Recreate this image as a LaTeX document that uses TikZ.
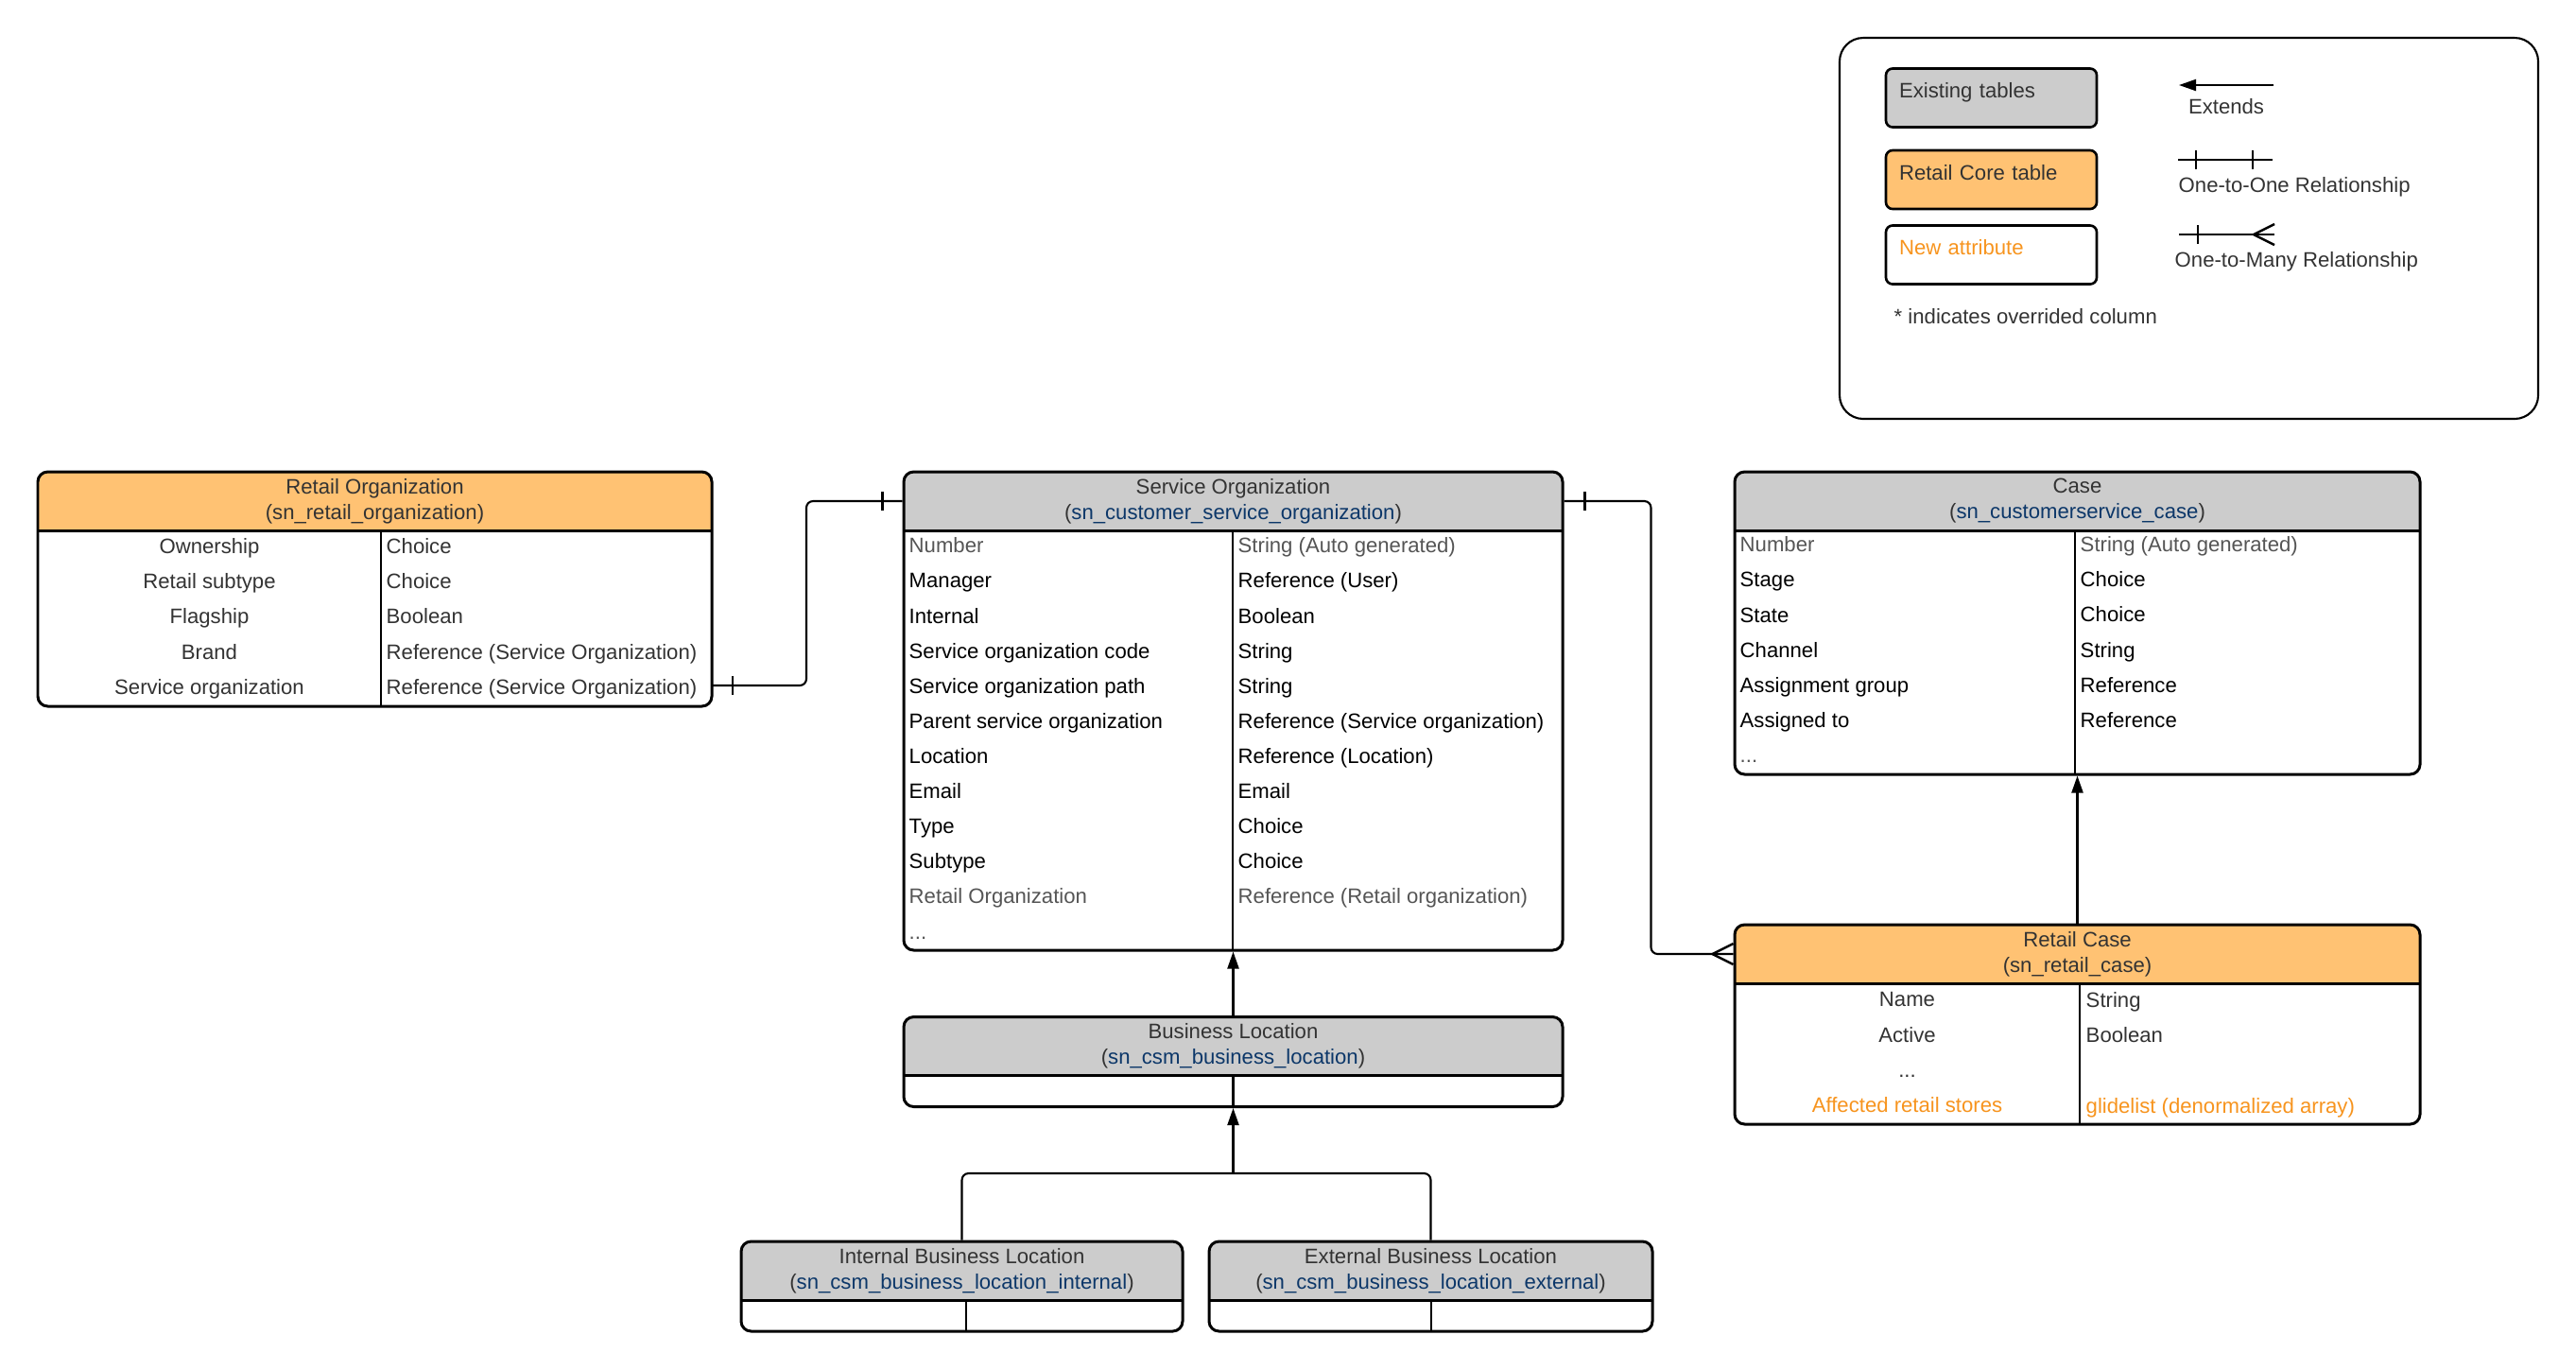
\documentclass[tikz,border=0pt]{standalone}
\usepackage{fontspec}
\setmainfont{Liberation Sans}
\usepackage{xcolor}
\usepackage{tikz}
\usetikzlibrary{arrows.meta, decorations.markings}
\definecolor{hdrorange}{RGB}{255,194,115}
\definecolor{hdrgray}{RGB}{204,204,204}
\definecolor{tblblue}{RGB}{12,55,105}
\definecolor{attrorange}{RGB}{247,148,30}
\definecolor{txtdark}{RGB}{51,51,51}
\definecolor{txtgray}{RGB}{85,85,85}
\newcommand{\tname}[1]{{\color{tblblue}#1}}

\begin{document}
\begin{tikzpicture}[
  % header fill, header rule and column rule are drawn inside the frame
  tblbox/.style 2 args={draw, line width=0.85pt, rounded corners=3pt, fill=white, inner sep=0pt,
      path picture={
        \fill[#1, sharp corners] (path picture bounding box.north west) rectangle
            ([yshift=-0.62cm]path picture bounding box.north east);
        \draw[line width=0.85pt, sharp corners] ([yshift=-0.62cm]path picture bounding box.north west)
            -- ([yshift=-0.62cm]path picture bounding box.north east);
        \draw[line width=0.7pt, sharp corners] ([xshift=#2, yshift=-0.62cm]path picture bounding box.north west)
            -- ([xshift=#2]path picture bounding box.south west);
      }},
  title/.style={font=\fontsize{6.3}{7.7}\selectfont, align=center, text=txtdark, inner sep=0pt},
  colk/.style={font=\fontsize{6.3}{10.56}\selectfont, align=left, anchor=north west, inner sep=0pt},
  colc/.style={font=\fontsize{6.3}{10.56}\selectfont, align=center, anchor=north, inner sep=0pt},
  conn/.style={line width=0.6pt, draw=black},
  extends/.style={conn, -{Triangle[length=0.18cm, width=0.12cm]}},
  onebar/.style={postaction={decorate, decoration={markings,
      mark=at position #1 with {\draw[line width=0.7pt] (0,-0.1) -- (0,0.1);}}}},
  crowfoot/.style={postaction={decorate, decoration={markings,
      mark=at position 1 with {\draw[line width=0.7pt] (-0.22,0) -- (0,0.11) (-0.22,0) -- (0,-0.11);}}}},
  lgbox/.style={draw, line width=0.75pt, rounded corners=2pt, text width=1.95cm, align=left,
      inner xsep=0.14cm, inner ysep=0.1cm, text height=0.21cm, text depth=0.21cm,
      font=\fontsize{6.3}{7.7}\selectfont, text=txtdark},
  lgtext/.style={font=\fontsize{6.3}{7.7}\selectfont, text=txtdark, inner sep=0pt}
]
\useasboundingbox (0,0) rectangle (27.25,-14.48);

% Retail Organization
\node[tblbox={hdrorange}{3.63cm}, minimum width=7.13cm, minimum height=2.48cm] (ro) at (3.965,-6.23) {};
\node[title] (ro-t) at (3.965,-5.30) {Retail Organization\\(sn\_retail\_organization)};
\node[colc, text=txtdark] (ro-k) at (2.215,-5.69)
    {Ownership\\Retail subtype\\Flagship\\Brand\\Service organization};
\node[colk, text=txtdark] (ro-v) at (4.08,-5.69)
    {Choice\\Choice\\Boolean\\Reference (Service Organization)\\Reference (Service Organization)};

% Service Organization
\node[tblbox={hdrgray}{3.48cm}, minimum width=6.97cm, minimum height=5.06cm] (so) at (13.045,-7.52) {};
\node[title] (so-t) at (13.045,-5.30) {Service Organization\\(\tname{sn\_customer\_service\_organization})};
\node[colk] (so-k) at (9.61,-5.68)
    {\textcolor{txtgray}{Number}\\Manager\\Internal\\Service organization code\\Service organization path\\
     Parent service organization\\Location\\Email\\Type\\Subtype\\\textcolor{txtgray}{Retail Organization}\\
     \textcolor{txtgray}{...}};
\node[colk] (so-v) at (13.09,-5.68)
    {\textcolor{txtgray}{String (Auto generated)}\\Reference (User)\\Boolean\\String\\String\\
     Reference (Service organization)\\Reference (Location)\\Email\\Choice\\Choice\\
     \textcolor{txtgray}{Reference (Retail organization)}};

% Case
\node[tblbox={hdrgray}{3.60cm}, minimum width=7.25cm, minimum height=3.20cm] (cs) at (21.975,-6.59) {};
\node[title] (cs-t) at (21.975,-5.30) {Case\\(\tname{sn\_customerservice\_case})};
\node[colk] (cs-k) at (18.40,-5.67)
    {\textcolor{txtgray}{Number}\\Stage\\State\\Channel\\Assignment group\\Assigned to\\\textcolor{txtgray}{...}};
\node[colk] (cs-v) at (22.00,-5.67)
    {\textcolor{txtgray}{String (Auto generated)}\\Choice\\Choice\\String\\Reference\\Reference};

% Retail Case
\node[tblbox={hdrorange}{3.65cm}, minimum width=7.25cm, minimum height=2.11cm] (rc) at (21.975,-10.835) {};
\node[title] (rc-t) at (21.975,-10.09) {Retail Case\\(sn\_retail\_case)};
\node[colc, text=txtdark] (rc-k) at (20.175,-10.49)
    {Name\\Active\\...\\\textcolor{attrorange}{Affected retail stores}};
\node[colk, text=txtdark] (rc-v) at (22.06,-10.49)
    {String\\Boolean\\\mbox{}\\\textcolor{attrorange}{glidelist (denormalized array)}};

% Business locations
\node[tblbox={hdrgray}{3.485cm}, minimum width=6.97cm, minimum height=0.95cm] (bl) at (13.045,-11.23) {};
\node[title] (bl-t) at (13.045,-11.06) {Business Location\\(\tname{sn\_csm\_business\_location})};
\node[tblbox={hdrgray}{2.38cm}, minimum width=4.67cm, minimum height=0.95cm] (ibl) at (10.175,-13.605) {};
\node[title] (ibl-t) at (10.175,-13.44) {Internal Business Location\\(\tname{sn\_csm\_business\_location\_internal})};
\node[tblbox={hdrgray}{2.35cm}, minimum width=4.69cm, minimum height=0.95cm] (ebl) at (15.135,-13.605) {};
\node[title] (ebl-t) at (15.135,-13.44) {External Business Location\\(\tname{sn\_csm\_business\_location\_external})};

% Connectors
\coordinate (ro-so) at (7.53,-7.25);
\draw[conn, rounded corners=2pt, onebar=0.22cm, onebar=-0.21cm]
    (ro-so) -- ++(1.0,0) |- (so-t -| so.west);
\draw[conn, rounded corners=2pt, onebar=0.22cm, crowfoot]
    (so-t -| so.east) -- ++(0.92,0) |- (rc-t -| rc.west);
\draw[extends] (rc.north) -- (cs.south);
\draw[extends] (bl.north) -- (so.south);
\coordinate (bl-j) at (13.045,-12.41);
\draw[extends] (bl-j) -- (bl.south);
\draw[conn, rounded corners=2pt] (ibl.north) |- (bl-j) -| (ebl.north);

% Legend
\node[draw, line width=0.6pt, rounded corners=0.25cm, minimum width=7.39cm, minimum height=4.03cm] (lg) at (23.155,-2.415) {};
\node[lgbox, fill=hdrgray] (lg-ex) at (21.065,-1.035) {Existing tables};
\node[lgbox, fill=hdrorange] (lg-core) at (21.065,-1.90) {Retail Core table};
\node[lgbox, text=attrorange] (lg-new) at (21.065,-2.695) {New attribute};
\node[lgtext, anchor=west] (lg-note) at (20.03,-3.35) {* indicates overrided column};

\coordinate (lg-e1) at (24.05,-0.90);
\coordinate (lg-e2) at (23.05,-0.90);
\draw[extends] (lg-e1) -- (lg-e2);
\node[lgtext] (lg-el) at (23.55,-1.13) {Extends};

\coordinate (lg-o1) at (23.04,-1.69);
\coordinate (lg-o2) at (24.04,-1.69);
\draw[conn, onebar=0.19cm, onebar=-0.21cm] (lg-o1) -- (lg-o2);
\node[lgtext, anchor=west] (lg-ol) at (23.04,-1.98) {One-to-One Relationship};

\coordinate (lg-m1) at (23.05,-2.48);
\coordinate (lg-m2) at (24.06,-2.48);
\draw[conn, onebar=0.2cm, crowfoot] (lg-m1) -- (lg-m2);
\node[lgtext, anchor=west] (lg-ml) at (23.00,-2.77) {One-to-Many Relationship};

\end{tikzpicture}
\end{document}
